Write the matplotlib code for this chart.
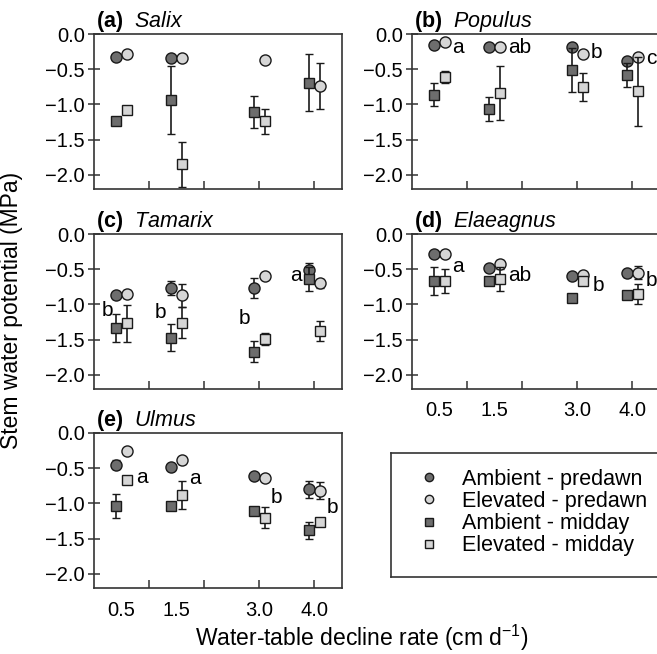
import numpy as np
import matplotlib
matplotlib.use('Agg')
import matplotlib.pyplot as plt
from matplotlib.lines import Line2D

plt.rcParams['font.family'] = ['Liberation Sans', 'DejaVu Sans']
plt.rcParams['mathtext.fontset'] = 'custom'
plt.rcParams['mathtext.rm'] = 'Liberation Sans'
plt.rcParams['mathtext.it'] = 'Liberation Sans:italic'
plt.rcParams['mathtext.bf'] = 'Liberation Sans:bold'

nan = np.nan

# water-table decline rates (cm/d)
rates = [0.5, 1.5, 3.0, 4.0]
rate_labels = ['0.5', '1.5', '3.0', '4.0']

species = ['Salix', 'Populus', 'Tamarix', 'Elaeagnus', 'Ulmus']
tags = ['(a)', '(b)', '(c)', '(d)', '(e)']

# stem water potential (MPa) and error
amb_pre = {
    'Salix': [-0.32, -0.34, nan, nan],
    'Populus': [-0.15, -0.19, -0.18, -0.39],
    'Tamarix': [-0.87, -0.77, -0.77, -0.51],
    'Elaeagnus': [-0.28, -0.48, -0.59, -0.56],
    'Ulmus': [-0.45, -0.48, -0.61, -0.80],
}
amb_pre_err = {
    'Salix': [0, 0, nan, nan],
    'Populus': [0, 0, 0, 0],
    'Tamarix': [0.05, 0.10, 0.14, 0.10],
    'Elaeagnus': [0, 0, 0, 0.05],
    'Ulmus': [0.06, 0, 0, 0.12],
}
elev_pre = {
    'Salix': [-0.29, -0.34, -0.37, -0.74],
    'Populus': [-0.12, -0.19, -0.28, -0.32],
    'Tamarix': [-0.85, -0.87, -0.60, -0.70],
    'Elaeagnus': [-0.28, -0.43, -0.58, -0.55],
    'Ulmus': [-0.26, -0.39, -0.64, -0.82],
}
elev_pre_err = {
    'Salix': [0, 0, 0, 0.33],
    'Populus': [0, 0, 0, 0],
    'Tamarix': [0.06, 0.16, 0, 0.06],
    'Elaeagnus': [0, 0.06, 0.03, 0.09],
    'Ulmus': [0, 0.05, 0, 0.12],
}
amb_mid = {
    'Salix': [-1.24, -0.94, -1.11, -0.69],
    'Populus': [-0.86, -1.07, -0.51, -0.58],
    'Tamarix': [-1.33, -1.47, -1.67, -0.64],
    'Elaeagnus': [-0.67, -0.67, -0.91, -0.86],
    'Ulmus': [-1.03, -1.03, -1.11, -1.38],
}
amb_mid_err = {
    'Salix': [0, 0.48, 0.23, 0.40],
    'Populus': [0.16, 0.17, 0.31, 0.17],
    'Tamarix': [0.20, 0.19, 0.15, 0.17],
    'Elaeagnus': [0.20, 0, 0.05, 0.03],
    'Ulmus': [0.17, 0, 0.06, 0.12],
}
elev_mid = {
    'Salix': [-1.08, -1.85, -1.24, nan],
    'Populus': [-0.61, -0.84, -0.75, -0.81],
    'Tamarix': [-1.27, -1.26, -1.49, -1.38],
    'Elaeagnus': [-0.67, -0.64, -0.66, -0.85],
    'Ulmus': [-0.67, -0.88, -1.20, -1.26],
}
elev_mid_err = {
    'Salix': [0.03, 0.32, 0.18, nan],
    'Populus': [0.09, 0.38, 0.20, 0.49],
    'Tamarix': [0.26, 0.22, 0.08, 0.14],
    'Elaeagnus': [0.17, 0.17, 0.05, 0.14],
    'Ulmus': [0, 0.20, 0.15, 0],
}

# significance letters: (x, y, letter)
letters = {
    'Salix': [],
    'Populus': [(0.72, -0.27, 'a'), (1.75, -0.27, 'ab'), (3.24, -0.34, 'b'), (4.25, -0.42, 'c')],
    'Tamarix': [(0.14, -1.17, 'b'), (1.11, -1.19, 'b'), (2.62, -1.28, 'b'), (3.56, -0.67, 'a')],
    'Elaeagnus': [(0.73, -0.54, 'a'), (1.75, -0.67, 'ab'), (3.27, -0.81, 'b'), (4.24, -0.74, 'b')],
    'Ulmus': [(0.76, -0.71, 'a'), (1.73, -0.73, 'a'), (3.2, -1.0, 'b'), (4.22, -1.14, 'b')],
}

dark = '#6d6d6d'
light = '#d6d6d6'
W, H = 657, 654
fig = plt.figure(figsize=(W / 100, H / 100), dpi=100)

# axes boxes in pixels: left, top
boxes = [(94, 34), (412, 34), (94, 234), (412, 234), (94, 433)]
aw, ah = 248, 155

x = np.array(rates)
off = 0.1
series = [
    (amb_pre, amb_pre_err, 'o', dark, -off, 8),
    (elev_pre, elev_pre_err, 'o', light, off, 8),
    (amb_mid, amb_mid_err, 's', dark, -off, 7),
    (elev_mid, elev_mid_err, 's', light, off, 7),
]

for i, sp in enumerate(species):
    l, t = boxes[i]
    ax = fig.add_axes([l / W, 1 - (t + ah) / H, aw / W, ah / H])
    for k, (vals, errs, m, c, dx, ms) in enumerate(series):
        ax.errorbar(x + dx, vals[sp], yerr=errs[sp], fmt=m, mfc=c, mec='#1a1a1a',
                    mew=1.0, ms=ms, ecolor='#1a1a1a', elinewidth=1.2, capsize=2.6,
                    capthick=1.2, zorder=2 + k * 0.1)
    for lx, ly, s in letters[sp]:
        ax.text(lx, ly, s, fontsize=15, ha='left', va='baseline')
    ax.set_xlim(0, 4.5)
    ax.set_ylim(-2.2, 0)
    ax.set_yticks([0, -0.5, -1.0, -1.5, -2.0])
    ax.set_yticklabels(['0.0', '\u22120.5', '\u22121.0', '\u22121.5', '\u22122.0'])
    # labels under the groups (no marks), marks between groups (no labels)
    ax.xaxis.remove_overlapping_locs = False
    ax.set_xticks(rates)
    if sp in ('Elaeagnus', 'Ulmus'):
        ax.set_xticklabels(rate_labels)
    else:
        ax.set_xticklabels([])
    ax.set_xticks([1, 2, 3, 4], minor=True)
    ax.tick_params(axis='x', which='major', length=0, labelsize=14.5, pad=9)
    ax.tick_params(axis='x', which='minor', direction='in', length=6, width=1.1,
                   color='#333333')
    ax.tick_params(axis='y', direction='inout', length=9, width=1.1,
                   color='#333333', labelsize=14.5, pad=2)
    for s in ax.spines.values():
        s.set_color('#333333')
        s.set_linewidth(1.2)
    ax.set_title(r'$\bf{' + tags[i] + r'}$  $\it{' + sp + '}$', loc='left',
                 fontsize=15.5, pad=3, x=0.01)

# legend box
lax = fig.add_axes([391 / W, 1 - 577 / H, 270 / W, 124 / H])
lax.set_xticks([])
lax.set_yticks([])
for s in lax.spines.values():
    s.set_color('#333333')
    s.set_linewidth(1.2)
handles = [
    Line2D([], [], marker='o', ls='', mfc=dark, mec='#1a1a1a', ms=6),
    Line2D([], [], marker='o', ls='', mfc=light, mec='#1a1a1a', ms=6),
    Line2D([], [], marker='s', ls='', mfc=dark, mec='#1a1a1a', ms=5.5),
    Line2D([], [], marker='s', ls='', mfc=light, mec='#1a1a1a', ms=5.5),
]
names = ['Ambient - predawn', 'Elevated - predawn', 'Ambient - midday', 'Elevated - midday']
lax.legend(handles, names, loc='center left', bbox_to_anchor=(0.03, 0.52), frameon=False,
           fontsize=15.5, labelspacing=0.05, handletextpad=1.0, handlelength=1.0)

fig.text(12 / W, 1 - 310 / H, 'Stem water potential (MPa)', rotation=90,
         fontsize=16.5, ha='center', va='center')
fig.text(362 / W, 1 - 638 / H, r'Water-table decline rate (cm d$^{-1}$)',
         fontsize=16.5, ha='center', va='center')

fig.savefig('out.png', dpi=100)
